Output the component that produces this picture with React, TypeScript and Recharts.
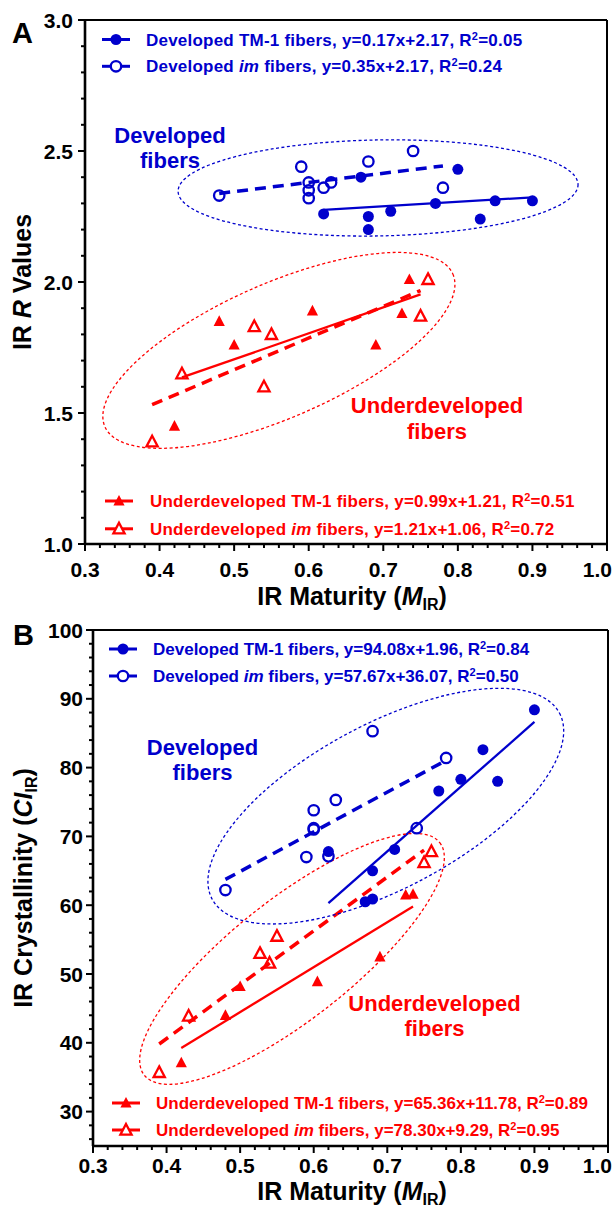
import React from "react";
import {
  ScatterChart,
  Scatter,
  XAxis,
  YAxis,
  ReferenceLine,
  ReferenceDot,
  Legend,
} from "recharts";

const BLUE = "#0000CC";
const RED = "#FF0000";
const FONT = "'Liberation Sans', Arial, Helvetica, sans-serif";

// IR maturity (M_IR) of each fiber group, shared by both panels
const devTm1Maturity = [0.62, 0.68, 0.68, 0.71, 0.67, 0.77, 0.8, 0.83, 0.85, 0.9];
const devImMaturity = [0.48, 0.59, 0.6, 0.6, 0.6, 0.62, 0.63, 0.68, 0.74, 0.78];
const undTm1Maturity = [0.42, 0.48, 0.5, 0.605, 0.69, 0.725, 0.735];
const undImMaturity = [0.39, 0.43, 0.527, 0.54, 0.55, 0.75, 0.76];

// panel A: IR R values
const devTm1R = [2.26, 2.25, 2.2, 2.27, 2.4, 2.3, 2.43, 2.24, 2.31, 2.31];
const devImR = [2.33, 2.44, 2.38, 2.35, 2.32, 2.36, 2.38, 2.46, 2.5, 2.36];
const undTm1R = [1.45, 1.85, 1.76, 1.89, 1.76, 1.88, 2.01];
const undImR = [1.39, 1.65, 1.83, 1.6, 1.8, 1.87, 2.01];

// panel B: IR crystallinity (CI_IR)
const devTm1CI = [67.8, 65.0, 60.9, 68.1, 60.5, 76.6, 78.3, 82.6, 78.0, 88.4];
const devImCI = [62.2, 67.0, 73.8, 71.2, 71.0, 67.1, 75.3, 85.3, 71.2, 81.4];
const undTm1CI = [37.1, 44.0, 48.2, 48.9, 52.5, 61.5, 61.6];
const undImCI = [35.7, 43.9, 53.0, 51.6, 55.5, 66.2, 67.8];

// legend names
const groupNames = ["Developed", "Developed", "Underdeveloped", "Underdeveloped"];
const strainNames = ["TM-1", "im", "TM-1", "im"];

// linear fits as printed in the legends, with the x span they cover
const slopeA = [0.17, 0.35, 0.99, 1.21];
const interceptA = [2.17, 2.17, 1.21, 1.06];
const r2A = [0.05, 0.24, 0.51, 0.72];
const fitFromA = [0.62, 0.48, 0.43, 0.39];
const fitToA = [0.9, 0.78, 0.75, 0.75];

const slopeB = [94.08, 57.67, 65.36, 78.3];
const interceptB = [1.96, 36.07, 11.78, 9.29];
const r2B = [0.84, 0.5, 0.89, 0.95];
const fitFromB = [0.62, 0.48, 0.42, 0.39];
const fitToB = [0.9, 0.775, 0.735, 0.75];

// axis tick labels
const xMajor = [0.3, 0.4, 0.5, 0.6, 0.7, 0.8, 0.9, 1.0];
const yMajorA = [1.0, 1.5, 2.0, 2.5, 3.0];
const yMajorB = [30, 40, 50, 60, 70, 80, 90, 100];

const range = (a: number, b: number, step: number) => {
  const n = Math.round((b - a) / step);
  return Array.from({ length: n + 1 }, (_, i) => +(a + i * step).toFixed(3));
};
const isMajor = (v: number, majors: number[]) => majors.some((m) => Math.abs(m - v) < 1e-6);
const pair = (xs: number[], ys: number[]) => xs.map((x, i) => ({ x, y: ys[i] }));

const xTicks = range(0.3, 1.0, 0.02);
const yTicksA = range(1.0, 3.0, 0.1);
const yTicksB = range(26, 100, 2);

const seriesColor = [BLUE, BLUE, RED, RED];
const seriesKind = ["dot", "ring", "tri", "otri"];
const seriesDashed = [false, true, false, true];

const triD = (cx: number, cy: number) =>
  `M${cx},${cy - 6} L${cx + 5.6},${cy + 4.6} L${cx - 5.6},${cy + 4.6} Z`;

function Marker({ cx, cy, kind, color, fill = "none" }: any) {
  if (kind === "dot") return <circle cx={cx} cy={cy} r={5.5} fill={color} />;
  if (kind === "ring")
    return <circle cx={cx} cy={cy} r={5.2} fill={fill} stroke={color} strokeWidth={2.3} />;
  if (kind === "tri") return <path d={triD(cx, cy)} fill={color} />;
  return <path d={triD(cx, cy)} fill={fill} stroke={color} strokeWidth={2.3} />;
}

function LegendRow({ i, y, xm, xt, slope, intercept, r2, spacing }: any) {
  const color = seriesColor[i];
  return (
    <g>
      <line x1={xm - 14} x2={xm + 14} y1={y} y2={y} stroke={color} strokeWidth={3} />
      <Marker cx={xm} cy={y} kind={seriesKind[i]} color={color} fill="#fff" />
      <text
        x={xt}
        y={y + 6}
        fill={color}
        fontSize={17}
        fontWeight="bold"
        fontFamily={FONT}
        letterSpacing={spacing}
      >
        {`${groupNames[i]} `}
        {strainNames[i] === "im" ? <tspan fontStyle="italic">im</tspan> : "TM-1"}
        {` fibers, y=${slope.toFixed(2)}x+${intercept.toFixed(2)}, R`}
        <tspan dy={-6} fontSize={11}>
          2
        </tspan>
        <tspan dy={6}>{`=${r2.toFixed(2)}`}</tspan>
      </text>
    </g>
  );
}

function Panel(p: any) {
  const data = p.yValues.map((ys: number[], i: number) => pair(p.xValues[i], ys));
  const tickFont = { fontSize: 21, fontWeight: "bold" as const, fontFamily: FONT, fill: "#000" };
  const overlay = (
    <svg width={613} height={606} style={{ position: "absolute", left: 0, top: 0, overflow: "visible" }}>
      <text x={p.letter[0]} y={p.letter[1]} fontSize={29} fontWeight="bold" fontFamily={FONT}>
        {p.letterText}
      </text>
      {[0, 1].map((i) => (
        <LegendRow
          key={i}
          i={i}
          y={p.blueRows[i]}
          xm={p.blueMarkX}
          xt={p.blueTextX}
          slope={p.slope[i]}
          intercept={p.intercept[i]}
          r2={p.r2[i]}
          spacing={p.legendSpacing}
        />
      ))}
      {[2, 3].map((i) => (
        <LegendRow
          key={i}
          i={i}
          y={p.redRows[i - 2]}
          xm={p.redMarkX}
          xt={p.redTextX}
          slope={p.slope[i]}
          intercept={p.intercept[i]}
          r2={p.r2[i]}
          spacing={p.legendSpacing}
        />
      ))}
      <g fontSize={22} fontWeight="bold" fontFamily={FONT} textAnchor="middle">
        <text x={p.devText[0]} y={p.devText[1]} fill={BLUE}>Developed</text>
        <text x={p.devText[0]} y={p.devText[2]} fill={BLUE}>fibers</text>
        <text x={p.undText[0]} y={p.undText[1]} fill={RED}>Underdeveloped</text>
        <text x={p.undText[0]} y={p.undText[2]} fill={RED}>fibers</text>
      </g>
      <text
        x={p.xTitle[0]}
        y={p.xTitle[1]}
        textAnchor="middle"
        fontSize={25}
        fontWeight="bold"
        fontFamily={FONT}
      >
        {"IR Maturity ("}
        <tspan fontStyle="italic">M</tspan>
        <tspan fontSize={16} dy={5}>IR</tspan>
        <tspan dy={-5}>)</tspan>
      </text>
      <text
        x={p.yTitle[0]}
        y={p.yTitle[1]}
        transform={`rotate(-90 ${p.yTitle[0]} ${p.yTitle[1]})`}
        textAnchor="middle"
        fontSize={25}
        fontWeight="bold"
        fontFamily={FONT}
      >
        {p.yTitleNode}
      </text>
    </svg>
  );

  return (
    <ScatterChart width={613} height={606} margin={p.margin} style={{ overflow: "visible" }}>
      <XAxis
        type="number"
        dataKey="x"
        domain={[0.3, 1.0]}
        ticks={xTicks}
        interval={0}
        height={p.xAxisHeight}
        tickSize={0}
        tickMargin={0}
        tickLine={false}
        allowDataOverflow
        axisLine={{ stroke: "#000", strokeWidth: 2.6 }}
        tick={(t: any) => {
          const v = t.payload.value;
          const major = isMajor(v, xMajor);
          const last = Math.abs(v - 1.0) < 1e-6;
          return (
            <g>
              <line x1={t.x} x2={t.x} y1={t.y} y2={t.y + (major ? 7 : 4)} stroke="#000" strokeWidth={2} />
              {major && (
                <text
                  x={last ? 612 : t.x}
                  y={t.y + p.xTickDy}
                  textAnchor={last ? "end" : "middle"}
                  {...tickFont}
                >
                  {v.toFixed(1)}
                </text>
              )}
            </g>
          );
        }}
      />
      <YAxis
        type="number"
        dataKey="y"
        domain={p.yDomain}
        ticks={p.yTicks}
        interval={0}
        width={p.yAxisWidth}
        tickSize={0}
        tickMargin={0}
        tickLine={false}
        allowDataOverflow
        axisLine={{ stroke: "#000", strokeWidth: 2.6 }}
        tick={(t: any) => {
          const major = isMajor(t.payload.value, p.yMajor);
          return (
            <g>
              <line x1={t.x} x2={t.x - (major ? 7 : 4)} y1={t.y} y2={t.y} stroke="#000" strokeWidth={2} />
              {major && (
                <text x={t.x - p.yTickGap} y={t.y + 7.5} textAnchor="end" {...tickFont}>
                  {p.yFormat(t.payload.value)}
                </text>
              )}
            </g>
          );
        }}
      />
      <ReferenceLine y={p.yDomain[1]} stroke="#000" strokeWidth={2} ifOverflow="visible" />
      <ReferenceLine x={1.0} stroke="#000" strokeWidth={2} ifOverflow="visible" />
      {p.ellipses.map((e: any, i: number) => (
        <ReferenceDot
          key={"e" + i}
          x={e.cx}
          y={e.cy}
          r={0}
          ifOverflow="visible"
          shape={(s: any) => (
            <ellipse
              cx={s.cx}
              cy={s.cy}
              rx={e.rx}
              ry={e.ry}
              transform={`rotate(${e.angle} ${s.cx} ${s.cy})`}
              fill="none"
              stroke={e.color}
              strokeWidth={1.3}
              strokeDasharray="3 2.5"
            />
          )}
        />
      ))}
      {p.slope.map((m: number, i: number) => (
        <ReferenceLine
          key={"f" + i}
          segment={[
            { x: p.fitFrom[i], y: m * p.fitFrom[i] + p.intercept[i] },
            { x: p.fitTo[i], y: m * p.fitTo[i] + p.intercept[i] },
          ]}
          stroke={seriesColor[i]}
          strokeWidth={seriesDashed[i] ? 3.5 : 2.3}
          strokeDasharray={seriesDashed[i] ? "11 7" : undefined}
          ifOverflow="visible"
        />
      ))}
      {data.map((d: any, i: number) => (
        <Scatter
          key={"s" + i}
          data={d}
          isAnimationActive={false}
          shape={(s: any) => <Marker cx={s.cx} cy={s.cy} kind={seriesKind[i]} color={seriesColor[i]} />}
        />
      ))}
      <Legend
        layout="horizontal"
        verticalAlign="middle"
        align="center"
        wrapperStyle={{ position: "absolute", left: 0, top: 0, width: 613, height: 606 }}
        content={() => overlay}
      />
    </ScatterChart>
  );
}

export default function App() {
  return (
    <div style={{ position: "absolute", left: 0, top: 0, width: 613, height: 1212, background: "#fff" }}>
      <Panel
        letterText="A"
        letter={[12, 43]}
        margin={{ top: 20, right: 6, left: 0, bottom: 0 }}
        yAxisWidth={85}
        xAxisHeight={62}
        xTickDy={33}
        yTickGap={12}
        yDomain={[1.0, 3.0]}
        yTicks={yTicksA}
        yMajor={yMajorA}
        yFormat={(v: number) => v.toFixed(1)}
        xValues={[devTm1Maturity, devImMaturity, undTm1Maturity, undImMaturity]}
        yValues={[devTm1R, devImR, undTm1R, undImR]}
        slope={slopeA}
        intercept={interceptA}
        r2={r2A}
        fitFrom={fitFromA}
        fitTo={fitToA}
        ellipses={[
          { cx: 0.693, cy: 2.359, rx: 200, ry: 48, angle: -1, color: BLUE },
          { cx: 0.56, cy: 1.739, rx: 190, ry: 67, angle: -23.7, color: RED },
        ]}
        legendSpacing={0.22}
        blueRows={[39.5, 66.3]}
        blueMarkX={116}
        blueTextX={146}
        redRows={[501, 528.8]}
        redMarkX={119}
        redTextX={150}
        devText={[170, 143, 168]}
        undText={[437, 413, 439]}
        xTitle={[352, 605]}
        yTitle={[31, 282]}
        yTitleNode={[
          "IR ",
          <tspan key="r" fontStyle="italic">R</tspan>,
          " Values",
        ]}
      />
      <Panel
        letterText="B"
        letter={[13, 39]}
        margin={{ top: 24, right: 5, left: 0, bottom: 0 }}
        yAxisWidth={93}
        xAxisHeight={66}
        xTickDy={27}
        yTickGap={10}
        yDomain={[25, 100]}
        yTicks={yTicksB}
        yMajor={yMajorB}
        yFormat={(v: number) => String(v)}
        xValues={[devTm1Maturity, devImMaturity, undTm1Maturity, undImMaturity]}
        yValues={[devTm1CI, devImCI, undTm1CI, undImCI]}
        slope={slopeB}
        intercept={interceptB}
        r2={r2B}
        fitFrom={fitFromB}
        fitTo={fitToB}
        ellipses={[
          { cx: 0.698, cy: 74.4, rx: 197, ry: 82, angle: -28.2, color: BLUE },
          { cx: 0.5705, cy: 52.2, rx: 188, ry: 60, angle: -38.2, color: RED },
        ]}
        legendSpacing={0}
        blueRows={[43, 70]}
        blueMarkX={123}
        blueTextX={153}
        redRows={[497, 524]}
        redMarkX={126}
        redTextX={156}
        devText={[202.5, 149, 174]}
        undText={[434.5, 405, 430]}
        xTitle={[352, 594]}
        yTitle={[32, 282]}
        yTitleNode={[
          "IR Crystallinity (",
          <tspan key="c" fontStyle="italic">CI</tspan>,
          <tspan key="s" fontSize={16} dy={5}>IR</tspan>,
          <tspan key="p" dy={-5}>)</tspan>,
        ]}
      />
    </div>
  );
}
